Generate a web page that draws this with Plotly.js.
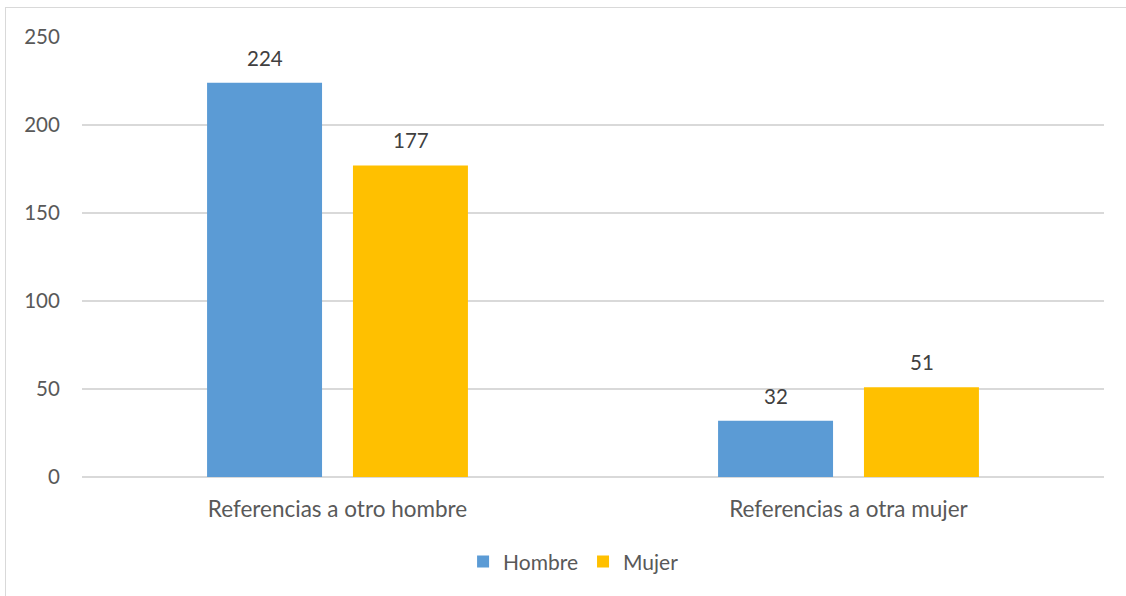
<!DOCTYPE html>
<html>
<head>
<meta charset="utf-8">
<script src="https://cdn.plot.ly/plotly-3.0.1.min.js"></script>
<style>
  html, body { margin: 0; padding: 0; background: #fff; }
  #wrap { position: relative; width: 1126px; height: 596px; overflow: hidden; }
  #chart { position: absolute; left: 0; top: 0; width: 1126px; height: 596px; }
  #frame { position: absolute; left: 5px; top: 7px; width: 1200px; height: 700px;
           border: 1.5px solid #d9d9d9; pointer-events: none; }
</style>
</head>
<body>
<div id="wrap">
  <div id="chart"></div>
  <div id="frame"></div>
</div>
<script>
const categories = ["Referencias a otro hombre", "Referencias a otra mujer"];
const hombre = [224, 32];
const mujer = [177, 51];
const seriesNames = ["Hombre", "Mujer"];
const yTicks = [0, 50, 100, 150, 200, 250];

const font = "Lato, 'Open Sans', sans-serif";

const traces = [
  { type: 'bar', name: seriesNames[0], x: categories, y: hombre,
    marker: { color: '#5b9bd5' }, hoverinfo: 'none' },
  { type: 'bar', name: seriesNames[1], x: categories, y: mujer,
    marker: { color: '#ffc000' }, hoverinfo: 'none' }
];

const annotations = [];
[[hombre, -73], [mujer, 73]].forEach(([vals, dx]) => {
  vals.forEach((v, i) => {
    annotations.push({ x: categories[i], y: v, xref: 'x', yref: 'y', text: String(v),
      showarrow: false, xshift: dx, yshift: 25, yanchor: 'middle',
      font: { family: font, size: 20.5, color: '#404040' } });
  });
});

const layout = {
  width: 1126, height: 596,
  margin: { l: 82, r: 22, t: 37, b: 119 },
  paper_bgcolor: 'rgba(0,0,0,0)', plot_bgcolor: 'rgba(0,0,0,0)',
  font: { family: font, size: 22, color: '#595959' },
  barmode: 'group', bargap: 0.429, bargroupgap: 0.212,
  showlegend: true,
  annotations: annotations,
  legend: { orientation: 'h', x: 0.481, xanchor: 'center', y: -0.193, yanchor: 'middle',
            font: { size: 21, color: '#595959', family: font }, itemwidth: 30 },
  xaxis: { type: 'category', showgrid: false, zeroline: false, showline: false,
           ticks: 'outside', ticklen: 12, tickcolor: 'rgba(0,0,0,0)',
           tickfont: { size: 22.5, color: '#595959', family: font } },
  yaxis: { range: [0, 250], tickvals: yTicks, ticktext: yTicks.map(String),
           showgrid: true, gridcolor: '#d9d9d9', gridwidth: 1.3,
           zeroline: true, zerolinecolor: '#d9d9d9', zerolinewidth: 1.3,
           showline: false, ticks: 'outside', ticklen: 17, tickcolor: 'rgba(0,0,0,0)',
           tickfont: { size: 20.5, color: '#595959', family: font } }
};

Plotly.newPlot('chart', traces, layout, { displayModeBar: false, staticPlot: true });
</script>
</body>
</html>
